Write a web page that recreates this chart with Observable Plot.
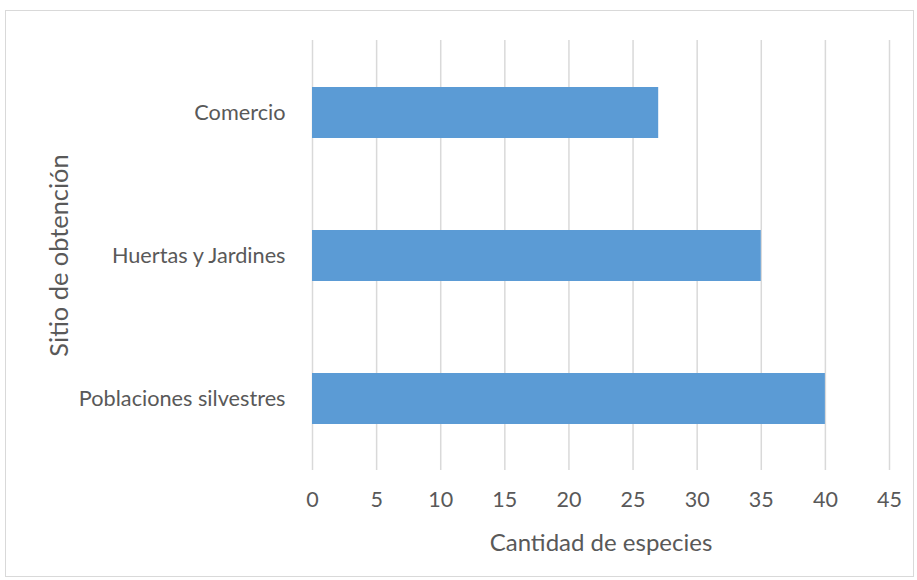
<!DOCTYPE html>
<html>
<head>
<meta charset="utf-8">
<script src="https://cdn.jsdelivr.net/npm/d3@7"></script>
<script src="https://cdn.jsdelivr.net/npm/@observablehq/plot@0.6"></script>
<style>
  html, body { margin: 0; padding: 0; background: #fff; }
  #wrap { position: relative; width: 917px; height: 580px; overflow: hidden; }
  #frame { position: absolute; left: 5px; top: 10px; width: 909px; height: 567px; border: 1.5px solid #d9d9d9; box-sizing: border-box; }
  #chart { position: absolute; left: 0; top: 0; }
</style>
</head>
<body>
<div id="wrap"><div id="frame"></div><div id="chart"></div></div>
<script>
const categories = ["Comercio", "Huertas y Jardines", "Poblaciones silvestres"];
const values = [27, 35, 40];
const xTicks = [0, 5, 10, 15, 20, 25, 30, 35, 40, 45];
const xTitle = "Cantidad de especies";
const yTitle = "Sitio de obtención";

const data = categories.map((c, i) => ({category: c, value: values[i]}));
const textColor = "#595959";

const chart = Plot.plot({
  width: 917,
  height: 580,
  marginLeft: 312,
  marginRight: 28,
  marginTop: 40,
  marginBottom: 110,
  style: {fontFamily: "Lato, sans-serif", fontSize: "20px", color: textColor, background: "transparent"},
  x: {domain: [0, 45], ticks: xTicks},
  y: {domain: categories, paddingInner: 0.645, paddingOuter: 0.3225},
  marks: [
    Plot.gridX(xTicks, {stroke: "#d9d9d9", strokeOpacity: 1, strokeWidth: 1.5}),
    Plot.barX(data, {x: "value", y: "category", fill: "#5b9bd5"}),
    Plot.axisX(xTicks, {tickSize: 0, tickPadding: 21, fill: textColor, fontSize: 21.5, label: null}),
    Plot.axisX({label: xTitle, labelAnchor: "center", labelOffset: 80, labelArrow: "none", ticks: [], tickSize: 0, fill: textColor, fontSize: 24}),
    Plot.axisY({tickSize: 0, tickPadding: 27, fill: textColor, fontSize: 21.7, label: null}),
    Plot.text([yTitle], {frameAnchor: "left", dx: -253, rotate: -90, fill: textColor, fontSize: 25.4, textAnchor: "middle"})
  ]
});
document.getElementById("chart").appendChild(chart);
</script>
</body>
</html>
